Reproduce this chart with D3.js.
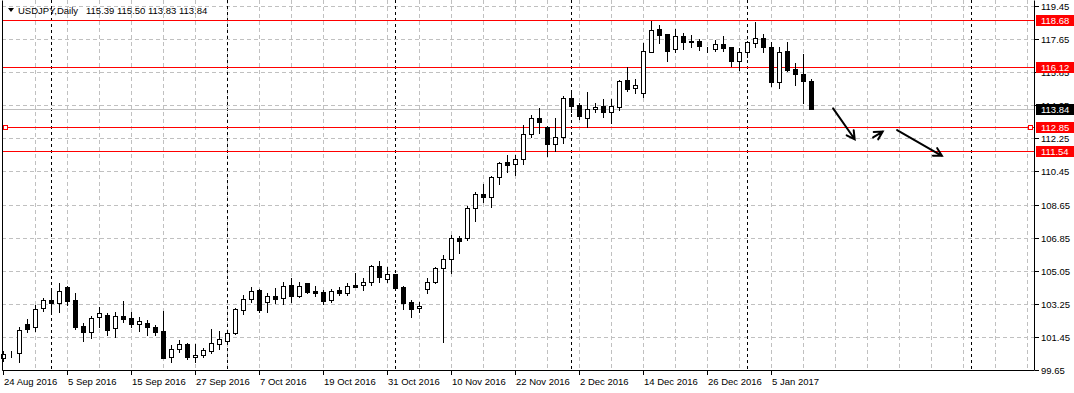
<!DOCTYPE html>
<html>
<head>
<meta charset="utf-8">
<script src="https://cdn.jsdelivr.net/npm/d3@7/dist/d3.min.js"></script>
<style>
  html, body { margin: 0; padding: 0; background: #fff; }
  svg { display: block; }
  text { font-family: "Liberation Sans", Arial, sans-serif; font-size: 9.5px; fill: #000; }
</style>
</head>
<body>
<div id="graph"></div>
<script>
// USDJPY daily bars, 24 Aug 2016 .. 12 Jan 2017
var opens = [100.30, 100.55, 100.59, 102.15, 101.97, 103.01, 103.46, 103.28, 104.16, 103.46,
  102.04, 101.73, 102.52, 102.66, 101.92, 102.59, 102.46, 102.13, 102.22, 102.01,
  101.77, 100.34, 100.78, 101.06, 100.34, 100.45, 100.70, 101.06, 101.24, 101.68,
  102.91, 103.53, 103.98, 103.33, 103.66, 103.55, 104.27, 103.68, 104.37, 103.95,
  103.88, 103.47, 104.00, 103.86, 104.27, 104.26, 104.45, 105.31, 104.58, 104.85,
  104.18, 103.36, 103.01, 104.04, 104.45, 105.18, 105.67, 106.85, 106.81, 108.44,
  109.22, 109.08, 110.13, 110.95, 110.84, 111.11, 112.47, 113.34, 112.85, 111.93,
  112.34, 114.43, 114.06, 113.34, 113.83, 114.01, 113.70, 113.97, 115.42, 115.00,
  114.73, 116.96, 118.20, 117.93, 117.09, 117.82, 117.50, 117.55, 117.07, 117.09,
  117.37, 117.20, 116.47, 116.96, 117.45, 117.69, 117.20, 115.33, 117.00, 116.01,
  115.73, 115.39];
var highs = [100.68, 100.70, 102.01, 102.41, 103.19, 103.57, 104.04, 104.37, 104.22, 103.82,
  102.19, 102.60, 103.06, 102.73, 102.81, 103.40, 102.79, 102.55, 102.37, 102.10,
  102.87, 101.01, 101.28, 101.13, 101.06, 100.83, 101.86, 101.79, 101.73, 103.01,
  103.73, 104.18, 104.06, 103.86, 104.09, 104.45, 104.64, 104.45, 104.40, 104.22,
  104.00, 104.06, 104.18, 104.40, 104.94, 104.64, 105.36, 105.59, 105.27, 104.87,
  104.22, 103.46, 103.36, 104.64, 105.27, 105.90, 106.99, 106.94, 108.57, 109.35,
  109.77, 110.20, 110.95, 111.35, 111.35, 112.98, 113.52, 113.88, 112.92, 113.37,
  114.55, 114.79, 114.16, 114.76, 114.16, 114.37, 114.39, 115.42, 116.11, 115.46,
  117.42, 118.63, 118.42, 117.93, 118.20, 118.00, 117.86, 117.64, 117.20, 117.60,
  117.82, 117.20, 117.18, 117.56, 118.60, 117.93, 117.47, 117.20, 117.47, 116.37,
  116.82, 115.50];
var lows = [100.14, 100.34, 100.10, 101.73, 101.79, 102.87, 102.87, 102.82, 103.19, 101.86,
  101.24, 101.41, 101.97, 101.55, 101.43, 102.28, 101.97, 101.79, 101.55, 101.55,
  100.30, 100.10, 100.65, 100.23, 100.10, 100.34, 100.56, 100.78, 101.19, 101.61,
  102.70, 103.35, 102.82, 102.82, 103.28, 103.24, 103.36, 103.64, 103.82, 103.69,
  103.22, 103.36, 103.73, 103.73, 104.15, 104.00, 104.27, 104.45, 104.45, 104.00,
  102.99, 102.55, 102.82, 103.82, 104.37, 101.19, 104.94, 106.03, 106.72, 107.77,
  108.80, 108.53, 109.77, 110.44, 110.26, 110.84, 112.34, 112.52, 111.29, 111.56,
  112.01, 113.67, 113.30, 112.85, 113.70, 113.39, 113.07, 113.79, 114.83, 114.70,
  114.48, 116.96, 117.45, 116.47, 116.96, 117.09, 117.24, 117.06, 116.96, 117.02,
  117.02, 116.19, 115.97, 116.69, 117.20, 116.96, 115.11, 114.97, 115.93, 115.15,
  114.19, 113.83];
var closes = [100.52, 100.57, 101.81, 101.88, 102.95, 103.44, 103.28, 103.93, 103.42, 102.01,
  101.73, 102.49, 102.73, 101.83, 102.59, 102.42, 102.13, 102.31, 101.97, 101.73,
  100.32, 100.78, 101.05, 100.34, 100.46, 100.74, 101.13, 101.36, 101.64, 102.95,
  103.53, 103.96, 102.91, 103.66, 103.53, 104.22, 103.69, 104.22, 103.88, 103.86,
  103.42, 103.96, 103.82, 104.22, 104.18, 104.45, 105.31, 104.73, 104.87, 104.13,
  103.31, 102.97, 103.13, 104.45, 105.18, 105.67, 106.81, 106.68, 108.44, 109.21,
  109.08, 110.13, 110.89, 110.82, 111.11, 112.49, 113.34, 113.16, 111.93, 112.34,
  114.43, 114.03, 113.48, 113.83, 113.97, 113.70, 114.01, 115.37, 114.93, 115.13,
  117.00, 118.14, 117.87, 117.02, 117.82, 117.51, 117.52, 117.29, 117.05, 117.37,
  117.18, 116.46, 116.96, 117.51, 117.69, 117.20, 115.33, 116.96, 115.97, 115.73,
  115.39, 113.84];

// date labels on the time axis (bar index, text)
var timeTickIndex = [0, 8, 16, 24, 32, 40, 48, 56, 64, 72, 80, 88, 96];
var timeTickLabels = ['24 Aug 2016', '5 Sep 2016', '15 Sep 2016', '27 Sep 2016', '7 Oct 2016',
  '19 Oct 2016', '31 Oct 2016', '10 Nov 2016', '22 Nov 2016', '2 Dec 2016',
  '14 Dec 2016', '26 Dec 2016', '5 Jan 2017'];
// month separators (first bar of each month)
var separators = [6, 28, 49, 71, 93, 121];

var priceTicks = [119.45, 117.65, 115.85, 114.05, 112.25, 110.45, 108.65, 106.85, 105.05, 103.25, 101.45, 99.65];

// horizontal levels drawn on the chart
var levelPrices = [118.68, 116.12, 112.85, 111.54];
var bidPrice = 113.84;

// hand drawn arrows: [from bar, from price, to bar, to price]
var arrows = [
  [103.7, 113.88, 106.4, 112.20],
  [108.7, 112.30, 109.9, 112.62],
  [111.7, 112.70, 117.3, 111.30]
];

var width = 1074, height = 393;
var plot = {left: 2, right: 1034, top: 0, bottom: 370};

var x = d3.scaleLinear().domain([0, 1]).range([3.5, 11.5]);
var y = d3.scaleLinear().domain([99.65, 119.45]).range([plot.bottom, 6]);

var svg = d3.select('#graph')
  .append('svg')
  .attr('width', width)
  .attr('height', height);

var px = function (v) { return Math.round(v) + 0.5; };

// Vertical grid every 4 bars
var vGrid = d3.range(4, 129, 4).filter(function (i) { return x(i) < plot.right; });
svg.append('g').selectAll('line')
  .data(vGrid)
  .enter()
  .append('line')
  .attr('x1', function (d) { return Math.floor(x(d)) + 0.5; })
  .attr('x2', function (d) { return Math.floor(x(d)) + 0.5; })
  .attr('y1', plot.top)
  .attr('y2', plot.bottom)
  .attr('stroke', '#c0c0c0')
  .attr('stroke-dasharray', '4,3');

// Horizontal grid at price ticks
svg.append('g').selectAll('line')
  .data(priceTicks)
  .enter()
  .append('line')
  .attr('x1', plot.left)
  .attr('x2', plot.right)
  .attr('y1', function (d) { return px(y(d)); })
  .attr('y2', function (d) { return px(y(d)); })
  .attr('stroke', '#c0c0c0')
  .attr('stroke-dasharray', '4,3');

// Period separators
svg.append('g').selectAll('line')
  .data(separators)
  .enter()
  .append('line')
  .attr('x1', function (d) { return Math.floor(x(d)) + 0.5; })
  .attr('x2', function (d) { return Math.floor(x(d)) + 0.5; })
  .attr('y1', plot.top)
  .attr('y2', plot.bottom)
  .attr('stroke', '#000')
  .attr('stroke-dasharray', '3,3');

// Bid line
svg.append('line')
  .attr('x1', plot.left)
  .attr('x2', plot.right)
  .attr('y1', px(y(bidPrice)))
  .attr('y2', px(y(bidPrice)))
  .attr('stroke', '#c0c0c0');

// Horizontal levels
svg.append('g').selectAll('line')
  .data(levelPrices)
  .enter()
  .append('line')
  .attr('x1', plot.left)
  .attr('x2', plot.right)
  .attr('y1', function (d) { return px(y(d)); })
  .attr('y2', function (d) { return px(y(d)); })
  .attr('stroke', '#ff0000');

// selected level gets its anchor squares
[plot.left + 1.5, plot.right - 5.5].forEach(function (sx) {
  svg.append('rect')
    .attr('x', sx)
    .attr('y', px(y(112.85)) - 2)
    .attr('width', 4)
    .attr('height', 4)
    .attr('fill', '#fff')
    .attr('stroke', '#ff0000');
});

// Candles
var bars = d3.range(opens.length).map(function (i) {
  return {i: i, o: opens[i], h: highs[i], l: lows[i], c: closes[i]};
});

var candle = svg.append('g').selectAll('g')
  .data(bars)
  .enter()
  .append('g');

candle.append('line')
  .attr('x1', function (d) { return Math.floor(x(d.i)) + 0.5; })
  .attr('x2', function (d) { return Math.floor(x(d.i)) + 0.5; })
  .attr('y1', function (d) { return Math.round(y(d.h)); })
  .attr('y2', function (d) { return Math.round(y(d.l)) + 1; })
  .attr('stroke', '#000');

candle.append('rect')
  .attr('x', function (d) { return Math.floor(x(d.i)) - 1.5; })
  .attr('y', function (d) { return px(y(Math.max(d.o, d.c))); })
  .attr('width', 4)
  .attr('height', function (d) {
    return Math.round(y(Math.min(d.o, d.c))) - Math.round(y(Math.max(d.o, d.c)));
  })
  .attr('fill', function (d) { return d.c >= d.o ? '#fff' : '#000'; })
  .attr('stroke', '#000');

// Arrows
var arrowGroup = svg.append('g')
  .attr('stroke', '#000')
  .attr('stroke-width', 2)
  .attr('fill', 'none')
  .attr('stroke-linecap', 'round');

arrows.forEach(function (a) {
  var x1 = x(a[0]), y1 = y(a[1]), x2 = x(a[2]), y2 = y(a[3]);
  var ang = Math.atan2(y2 - y1, x2 - x1);
  var len = 9, spread = 0.5;
  arrowGroup.append('path')
    .attr('d', 'M' + x1 + ',' + y1 + 'L' + x2 + ',' + y2 +
      'M' + (x2 - len * Math.cos(ang - spread)) + ',' + (y2 - len * Math.sin(ang - spread)) +
      'L' + x2 + ',' + y2 +
      'L' + (x2 - len * Math.cos(ang + spread)) + ',' + (y2 - len * Math.sin(ang + spread)));
});

// Frame
svg.append('path')
  .attr('d', 'M' + (plot.left + 0.5) + ',' + (plot.top + 0.5) +
    'V' + (plot.bottom + 0.5) + 'H' + (plot.right + 0.5) + 'V' + (plot.top + 0.5))
  .attr('fill', 'none')
  .attr('stroke', '#000');

// Price axis
var priceAxis = svg.append('g');
priceAxis.selectAll('line')
  .data(priceTicks)
  .enter()
  .append('line')
  .attr('x1', plot.right + 1)
  .attr('x2', plot.right + 5)
  .attr('y1', function (d) { return px(y(d)); })
  .attr('y2', function (d) { return px(y(d)); })
  .attr('stroke', '#000');
priceAxis.selectAll('text')
  .data(priceTicks)
  .enter()
  .append('text')
  .attr('x', plot.right + 7)
  .attr('y', function (d) { return Math.round(y(d)) + 4; })
  .text(function (d) { return d.toFixed(2); });

// Level labels
var tags = levelPrices.map(function (p) { return {p: p, bg: '#ff0000'}; });
tags.push({p: bidPrice, bg: '#000'});
var tag = svg.append('g').selectAll('g')
  .data(tags)
  .enter()
  .append('g');
tag.append('rect')
  .attr('x', plot.right + 2)
  .attr('y', function (d) { return Math.round(y(d.p)) - 5; })
  .attr('width', width - plot.right - 2)
  .attr('height', 11)
  .attr('fill', function (d) { return d.bg; });
tag.append('text')
  .attr('x', plot.right + 7)
  .attr('y', function (d) { return Math.round(y(d.p)) + 4; })
  .style('fill', '#fff')
  .text(function (d) { return d.p.toFixed(2); });

// Time axis
var timeAxis = svg.append('g');
timeAxis.selectAll('line')
  .data(timeTickIndex)
  .enter()
  .append('line')
  .attr('x1', function (d) { return Math.floor(x(d)) + 0.5; })
  .attr('x2', function (d) { return Math.floor(x(d)) + 0.5; })
  .attr('y1', plot.bottom + 1)
  .attr('y2', plot.bottom + 5)
  .attr('stroke', '#000');
timeAxis.selectAll('text')
  .data(timeTickIndex)
  .enter()
  .append('text')
  .attr('x', function (d) { return Math.floor(x(d)) + 1; })
  .attr('y', plot.bottom + 15)
  .text(function (d, i) { return timeTickLabels[i]; });

// Title
svg.append('path')
  .attr('d', 'M8,8L14,8L11,12Z')
  .attr('fill', '#000');
svg.append('text')
  .attr('x', 18)
  .attr('y', 14)
  .text('USDJPY,Daily');
svg.append('text')
  .attr('x', 86)
  .attr('y', 14)
  .text(opens[opens.length - 1].toFixed(2) + ' ' + highs[highs.length - 1].toFixed(2) + ' ' +
    lows[lows.length - 1].toFixed(2) + ' ' + closes[closes.length - 1].toFixed(2));
</script>
</body>
</html>
